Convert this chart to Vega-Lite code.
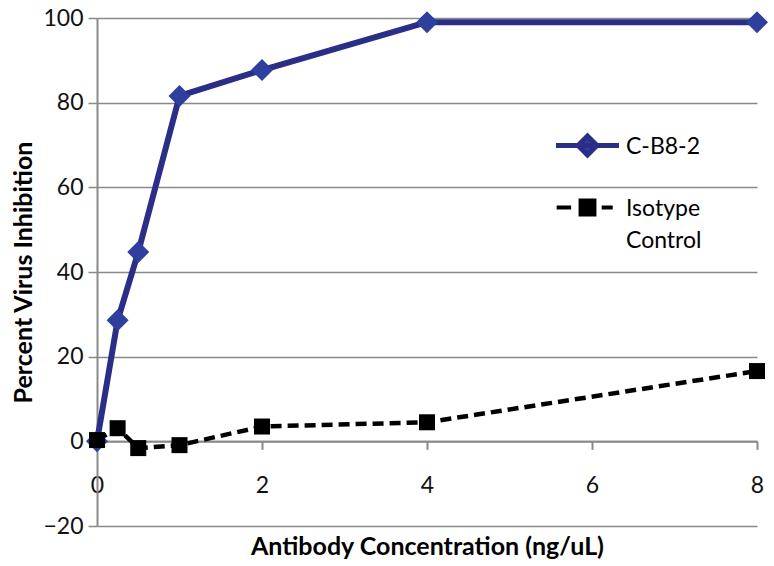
{
  "$schema": "https://vega.github.io/schema/vega-lite/v6.json",
  "width": 660,
  "height": 508,
  "autosize": {"type": "none"},
  "padding": {"left": 97, "top": 18, "right": 17, "bottom": 40},
  "background": "white",
  "config": {
    "view": {"stroke": null},
    "font": "Lato",
    "legend": {"padding": 0}
  },
  "data": {
    "values": [
      {"x": 0, "y": 0, "series": "C-B8-2"},
      {"x": 0.25, "y": 28.6, "series": "C-B8-2"},
      {"x": 0.5, "y": 44.7, "series": "C-B8-2"},
      {"x": 1, "y": 81.6, "series": "C-B8-2"},
      {"x": 2, "y": 87.7, "series": "C-B8-2"},
      {"x": 4, "y": 99, "series": "C-B8-2"},
      {"x": 8, "y": 99, "series": "C-B8-2"},
      {"x": 0, "y": 0.3, "series": "Isotype Control"},
      {"x": 0.25, "y": 3.1, "series": "Isotype Control"},
      {"x": 0.5, "y": -1.6, "series": "Isotype Control"},
      {"x": 1, "y": -0.9, "series": "Isotype Control"},
      {"x": 2, "y": 3.5, "series": "Isotype Control"},
      {"x": 4, "y": 4.5, "series": "Isotype Control"},
      {"x": 8, "y": 16.6, "series": "Isotype Control"}
    ]
  },
  "encoding": {
    "x": {
      "field": "x", "type": "quantitative",
      "scale": {"domain": [0, 8], "nice": false, "zero": false},
      "axis": {
        "title": "Antibody Concentration (ng/uL)",
        "values": [0, 2, 4, 6, 8],
        "grid": false,
        "offset": -84.67,
        "labelFlush": false,
        "domainColor": "#898989", "domainWidth": 2,
        "tickColor": "#898989", "tickWidth": 2, "tickSize": 8,
        "labelFont": "Lato", "labelFontSize": 23, "labelColor": "#111111",
        "labelPadding": 25,
        "titleFont": "Lato", "titleFontSize": 25, "titleFontWeight": "bold", "titleColor": "#000000",
        "titlePadding": 37
      }
    },
    "y": {
      "field": "y", "type": "quantitative",
      "scale": {"domain": [-20, 100], "nice": false, "zero": false},
      "axis": {
        "title": "Percent Virus Inhibition",
        "values": [-20, 0, 20, 40, 60, 80, 100],
        "grid": true,
        "labelFlush": false,
        "gridColor": "#898989", "gridWidth": 1.5,
        "domainColor": "#898989", "domainWidth": 2,
        "tickColor": "#898989", "tickWidth": 1.5, "tickSize": 9,
        "labelFont": "Lato", "labelFontSize": 23, "labelColor": "#111111",
        "labelPadding": 5,
        "titleFont": "Lato", "titleFontSize": 25, "titleFontWeight": "bold", "titleColor": "#000000",
        "titlePadding": 6
      }
    }
  },
  "layer": [
    {
      "transform": [{"filter": "datum.series == 'C-B8-2'"}],
      "mark": {"type": "line", "strokeWidth": 6, "strokeJoin": "round", "strokeCap": "round"},
      "encoding": {
        "color": {
          "field": "series", "type": "nominal",
          "scale": {"domain": ["C-B8-2", "Isotype Control"], "range": ["#2A2E86", "#000000"]},
          "legend": {
            "orient": "none", "legendX": 479, "legendY": 116,
            "title": null,
            "labelFont": "Lato", "labelFontSize": 23, "labelColor": "#000000",
            "labelOffset": 27,
            "symbolSize": 3969, "symbolStrokeWidth": 5,
            "rowPadding": 27,
            "labelExpr": "datum.label == 'Isotype Control' ? ['Isotype', 'Control'] : datum.label",
            "encode": {
              "symbols": {
                "update": {
                  "shape": {"signal": "datum.value == 'C-B8-2' ? 'M-1,0L1,0M-0.3,0L0,-0.3L0.3,0L0,0.3Z' : 'M-0.98,0L-0.52,0M0.45,0L0.8,0M-0.22,-0.22L0.22,-0.22L0.22,0.22L-0.22,0.22Z'"},
                  "fill": {"signal": "datum.value == 'C-B8-2' ? '#2E3F9E' : '#000000'"},
                  "strokeWidth": {"signal": "datum.value == 'C-B8-2' ? 5 : 4"},
                  "strokeDash": {"value": []}
                }
              },
              "labels": {
                "update": {
                  "baseline": {"value": "top"},
                  "dy": {"value": -10},
                  "lineHeight": {"value": 32}
                }
              }
            }
          }
        }
      }
    },
    {
      "transform": [{"filter": "datum.series == 'C-B8-2'"}],
      "mark": {"type": "point", "shape": "diamond", "filled": true, "size": 484, "color": "#2E3F9E", "opacity": 1}
    },
    {
      "transform": [{"filter": "datum.series == 'Isotype Control'"}],
      "mark": {"type": "line", "strokeWidth": 4.5, "strokeDash": [11, 6]},
      "encoding": {
        "color": {"field": "series", "type": "nominal"}
      }
    },
    {
      "transform": [{"filter": "datum.series == 'Isotype Control'"}],
      "mark": {"type": "point", "shape": "square", "filled": true, "size": 256, "color": "#000000", "opacity": 1}
    }
  ]
}
